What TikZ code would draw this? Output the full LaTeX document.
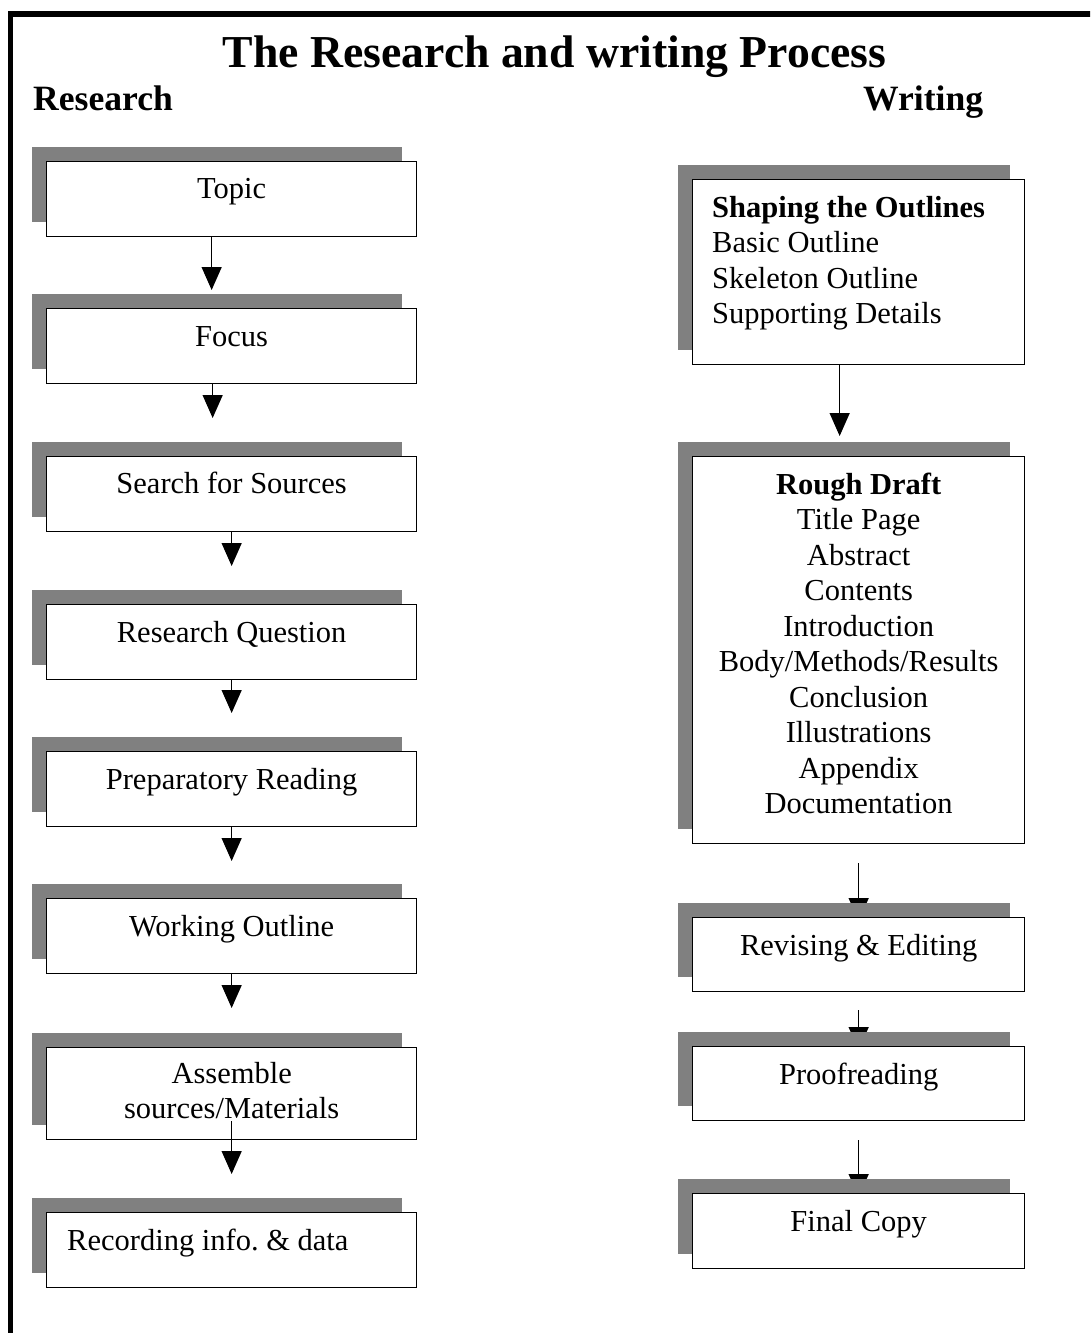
\documentclass[tikz,border=0pt]{standalone}
\usepackage{fontspec}
\setmainfont{Liberation Serif}
\usetikzlibrary{arrows.meta,shadows,backgrounds,calc}
\definecolor{shadowgray}{RGB}{128,128,128}
\begin{document}
\begin{tikzpicture}[x=1pt,y=-1pt,
  box/.style={draw=black, line width=1.3pt, fill=white, anchor=north west, inner sep=0pt,
    general shadow={fill=shadowgray, shadow xshift=-15pt, shadow yshift=15pt}},
  lbox/.style={box, minimum width=370pt, minimum height=75pt},
  rbox/.style={box, minimum width=332pt},
  txt/.style={font=\fontsize{30.5}{35.5}\selectfont, inner sep=0pt, anchor=base},
  arr/.style={line width=1.3pt, -{Triangle[width=20pt,length=23pt]}}]
\useasboundingbox (0,0) rectangle (1090,1333);
\begin{scope}
\clip (0,0) rectangle (1090,1333);
\draw[line width=5.5pt] (10.3,1345) -- (10.3,13.8) -- (1100,13.8);
\end{scope}
% headings
\node[font=\bfseries\fontsize{45.7}{50}\selectfont, inner sep=0pt, anchor=base] (title) at (554.5,67) {The Research and writing Process};
\node[font=\bfseries\fontsize{35.6}{40}\selectfont, inner sep=0pt, anchor=base west] (hres) at (33,110) {Research};
\node[font=\bfseries\fontsize{35.6}{40}\selectfont, inner sep=0pt, anchor=base west] (hwri) at (863,110) {Writing};
% research column
\node[lbox] (topic) at (46,161) {};
\node[lbox] (focus) at (46,308) {};
\node[lbox] (search) at (46,456) {};
\node[lbox] (rq) at (46,604) {};
\node[lbox] (prep) at (46,751) {};
\node[lbox] (work) at (46,898) {};
\node[lbox, minimum height=92pt] (assemble) at (46,1047) {};
\node[lbox] (recording) at (46,1212) {};
\node[txt] (topic-t) at ($(topic.north)+(0,37)$) {Topic};
\node[txt] (focus-t) at ($(focus.north)+(0,38)$) {Focus};
\node[txt] (search-t) at ($(search.north)+(0,37)$) {Search for Sources};
\node[txt] (rq-t) at ($(rq.north)+(0,38)$) {Research Question};
\node[txt] (prep-t) at ($(prep.north)+(0,38)$) {Preparatory Reading};
\node[txt] (work-t) at ($(work.north)+(0,38)$) {Working Outline};
% multi-line nodes: base anchor is the baseline of the last line
\node[txt, align=center] (assemble-t) at ($(assemble.north)+(0,71.5)$) {Assemble\\sources/Materials};
\node[txt, anchor=base west] (recording-t) at ($(recording.north west)+(21,38)$) {Recording info.\ \& data};
% writing column
\node[rbox, minimum height=185pt] (shape) at (692,179) {};
\node[rbox, minimum height=387pt] (rough) at (692,456) {};
\node[rbox, minimum height=74pt] (revise) at (692,917) {};
\node[rbox, minimum height=74pt] (proof) at (692,1046) {};
\node[rbox, minimum height=75pt] (final) at (692,1193) {};
\node[txt, anchor=base west, align=left] (shape-t) at ($(shape.north west)+(20,144.5)$) {\textbf{Shaping the Outlines}\\Basic Outline\\Skeleton Outline\\Supporting Details};
\node[txt, align=center] (rough-t) at ($(rough.north)+(0,357.5)$) {\textbf{Rough Draft}\\Title Page\\Abstract\\Contents\\Introduction\\Body/Methods/Results\\Conclusion\\Illustrations\\Appendix\\Documentation};
\node[txt] (revise-t) at ($(revise.north)+(0,38)$) {Revising \& Editing};
\node[txt] (proof-t) at ($(proof.north)+(0,38)$) {Proofreading};
\node[txt] (final-t) at ($(final.north)+(0,38)$) {Final Copy};
% connectors
\begin{scope}[on background layer]
\draw[arr] ($(topic.south)+(-20,0)$) -- ($(focus.north)+(-20,-18)$);
\draw[arr] ($(focus.south)+(-19,0)$) -- ($(search.north)+(-19,-38)$);
\draw[arr] (search.south) -- ($(rq.north)+(0,-38)$);
\draw[arr] (rq.south) -- ($(prep.north)+(0,-38)$);
\draw[arr] (prep.south) -- ($(work.north)+(0,-37)$);
\draw[arr] (work.south) -- ($(assemble.north)+(0,-39)$);
\draw[arr] ($(shape.south)+(-19,0)$) -- ($(rough.north)+(-19,-20)$);
\draw[arr] ($(rough.south)+(0,19)$) -- ($(revise.north)+(0,4)$);
\draw[arr] ($(revise.south)+(0,18)$) -- ($(proof.north)+(0,4)$);
\draw[arr] ($(proof.south)+(0,19)$) -- ($(final.north)+(0,4)$);
\end{scope}
\draw[arr] ($(assemble.south)+(0,-19)$) -- ($(recording.north)+(0,-38)$);
\end{tikzpicture}
\end{document}
